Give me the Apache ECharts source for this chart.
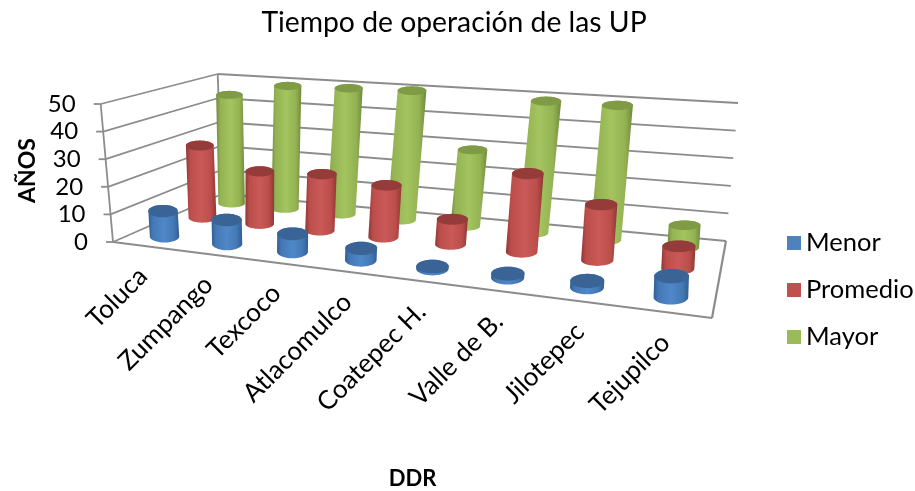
<!DOCTYPE html>
<html><head><meta charset="utf-8">
<style>html,body{margin:0;padding:0;background:#fff}#c{width:915px;height:491px}</style>
<script src="https://cdn.jsdelivr.net/npm/echarts@6/dist/echarts.min.js"></script>
</head><body><div id="c"></div>
<script>
const categories = ['Toluca','Zumpango','Texcoco','Atlacomulco','Coatepec H.','Valle de B.','Jilotepec','Tejupilco'];
const menor    = [9.3, 8.6, 6.3, 4, 0.7, 1.3, 2, 6.5];
const promedio = [28, 20, 21, 19, 9, 27.5, 19, 7.5];
const mayor    = [44, 49, 49.5, 50, 29, 49, 49, 8];
const yTicks   = [0, 10, 20, 30, 40, 50];

const FONT = 'Lato';
// projection of the 3D box: floor and ceiling quads [front-left, front-right, back-right, back-left]
const floorQuad = [[113,242],[712,318],[726,241],[222,194]];
const topQuad   = [[100.7,104],[720,146],[738,103],[217.7,74]];
const barTopQuad= [[100.7,104],[714,146],[733,103],[217.7,74]];
function homography(q){
  const [p0,p1,p2,p3]=q;
  const dx1=p1[0]-p2[0],dx2=p3[0]-p2[0],sx=p0[0]-p1[0]+p2[0]-p3[0];
  const dy1=p1[1]-p2[1],dy2=p3[1]-p2[1],sy=p0[1]-p1[1]+p2[1]-p3[1];
  const den=dx1*dy2-dx2*dy1;
  const g=(sx*dy2-dx2*sy)/den,h=(dx1*sy-sx*dy1)/den;
  const a=p1[0]-p0[0]+g*p1[0],b=p3[0]-p0[0]+h*p3[0],c=p0[0];
  const d=p1[1]-p0[1]+g*p1[1],e=p3[1]-p0[1]+h*p3[1],f=p0[1];
  return (u,w)=>{const k=g*u+h*w+1;return [(a*u+b*w+c)/k,(d*u+e*w+f)/k];};
}
function bilinear(q){
  return (u,w)=>[0,1].map(i=>(1-w)*((1-u)*q[0][i]+u*q[1][i])+w*((1-u)*q[3][i]+u*q[2][i]));
}
function blended(q){
  const H=homography(q),B=bilinear(q);
  return (u,w)=>{const a=Math.min(1,0.6+0.5*w),P=H(u,w),L=B(u,w);return [P[0]*a+L[0]*(1-a),P[1]*a+L[1]*(1-a)];};
}
const Hf=blended(floorQuad),Ht=blended(topQuad),Hb=blended(barTopQuad);
function project(u,w,v,top){const A=Hf(u,w),B=(top||Ht)(u,w);return [A[0]+(B[0]-A[0])*v,A[1]+(B[1]-A[1])*v];}
function hull(pts){
  const s=pts.slice().sort((a,b)=>a[0]-b[0]||a[1]-b[1]);
  const cr=(o,a,b)=>(a[0]-o[0])*(b[1]-o[1])-(a[1]-o[1])*(b[0]-o[0]);
  const lo=[],up=[];
  for(const p of s){while(lo.length>1&&cr(lo[lo.length-2],lo[lo.length-1],p)<=0)lo.pop();lo.push(p);}
  for(const p of s.slice().reverse()){while(up.length>1&&cr(up[up.length-2],up[up.length-1],p)<=0)up.pop();up.push(p);}
  return lo.slice(0,-1).concat(up.slice(0,-1));
}
function ring(u,w,v){
  const c=project(u,w,v,Hb),rx=12.7+2.2*(1-w)+3*u,ry=rx*(0.45-0.18*w),r=[];
  for(let i=0;i<40;i++){const t=i/40*Math.PI*2;r.push([c[0]+rx*Math.cos(t),c[1]+ry*Math.sin(t)]);}
  return r;
}
function norm(api,params,x,y){
  const s=params.coordSys,p=api.coord([x,y]);
  return {u:(p[0]-s.x)/s.width,v:(s.y+s.height-p[1])/s.height};
}
function cylinderSeries(name,values,depth,pal,z){
  return {
    name,type:'custom',z,
    coordinateSystem:'cartesian2d',
    itemStyle:{color:pal.legend},
    encode:{x:0,y:1},
    data:values.map((v,i)=>[i,v]),
    renderItem(params,api){
      const n=norm(api,params,api.value(0),api.value(1));
      const b=ring(n.u,depth,0),t=ring(n.u,depth,n.v);
      return {type:'group',children:[
        {type:'polygon',shape:{points:hull(b.concat(t))},style:{fill:new echarts.graphic.LinearGradient(0,0,1,0,[
          {offset:0,color:pal.edge},{offset:.14,color:pal.mid},{offset:.5,color:pal.light},{offset:.82,color:pal.mid},{offset:1,color:pal.edge}])}},
        {type:'polygon',shape:{points:t},style:{fill:pal.top}}
      ]};
    }
  };
}
const GRAY='#8c8c8c';
const seg=(a,b,w)=>({type:'line',shape:{x1:a[0],y1:a[1],x2:b[0],y2:b[1]},style:{stroke:GRAY,lineWidth:w||1.8}});
const frame={
  type:'custom',z:1,silent:true,coordinateSystem:'cartesian2d',tooltip:{show:false},
  encode:{y:0},data:yTicks.map(v=>[v]),
  renderItem(params,api){
    const val=api.value(0);
    const n=norm(api,params,0,val);
    const v=n.v;
    const fl=project(0,0,v),bl=project(0,1,v),br=project(1,1,v);
    const ch=[seg(fl,bl),seg(bl,br),seg([fl[0]-7,fl[1]],fl)];
    if(val===yTicks[0]){
      const fr=project(1,0,0);
      ch.push(seg(fl,fr,2.2),seg(fr,br,2.2),seg(fl,project(0,0,1)),seg(bl,project(0,1,1)));
    }
    ch.push({type:'text',x:fl[0]-25,y:fl[1],style:{text:String(val),align:'right',verticalAlign:'middle',font:'24px '+FONT,fill:'#000'}});
    return {type:'group',children:ch};
  }
};
const xLabels={
  type:'custom',z:6,silent:true,coordinateSystem:'cartesian2d',tooltip:{show:false},
  encode:{x:0},data:categories.map((c,i)=>[i]),
  renderItem(params,api){
    const i=api.value(0);
    const n=norm(api,params,i,0);
    const p=project(n.u,0,0);
    return {type:'text',x:p[0]-2,y:p[1]+26,rotation:Math.PI/4,style:{text:categories[i],align:'right',verticalAlign:'middle',font:'26px '+FONT,fill:'#000'}};
  }
};
const chart=echarts.init(document.getElementById('c'),null,{renderer:'canvas'});
chart.setOption({
  animation:false,backgroundColor:'#fff',
  title:{text:'Tiempo de operación de las UP',left:449,top:4,textAlign:'center',textStyle:{fontFamily:FONT,fontSize:28.3,fontWeight:'normal',color:'#000'}},
  legend:{orient:'vertical',left:782,top:225,icon:'rect',itemWidth:14,itemHeight:14,itemGap:21,data:['Menor','Promedio','Mayor'],
    textStyle:{fontFamily:FONT,fontSize:25.5,color:'#000'}},
  grid:{left:113,top:105,width:599,height:136},
  xAxis:{type:'category',data:categories,name:'DDR',nameLocation:'middle',nameGap:242,
    nameTextStyle:{fontFamily:FONT,fontSize:22,fontWeight:'bold',color:'#000'},
    axisLine:{show:false},axisTick:{show:false},axisLabel:{show:false},splitLine:{show:false}},
  yAxis:{type:'value',min:0,max:50,interval:10,name:'AÑOS',nameLocation:'middle',nameGap:74,nameRotate:90,
    nameTextStyle:{fontFamily:FONT,fontSize:23,fontWeight:'bold',color:'#000',padding:[0,10,0,0]},
    axisLine:{show:false},axisTick:{show:false},axisLabel:{show:false},splitLine:{show:false}},
  series:[
    frame,
    cylinderSeries('Mayor',mayor,0.83,{legend:'#9BBB59',edge:'#6f8a3b',mid:'#93b252',light:'#a3c45f',top:'#7f9b45'},2),
    cylinderSeries('Promedio',promedio,0.53,{legend:'#C0504D',edge:'#8e3836',mid:'#bb4d4a',light:'#c95a57',top:'#953c3a'},3),
    cylinderSeries('Menor',menor,0.175,{legend:'#4F81BD',edge:'#2f5e92',mid:'#4478b5',light:'#4f88c8',top:'#3a6496'},4),
    xLabels
  ]
});
</script></body></html>
